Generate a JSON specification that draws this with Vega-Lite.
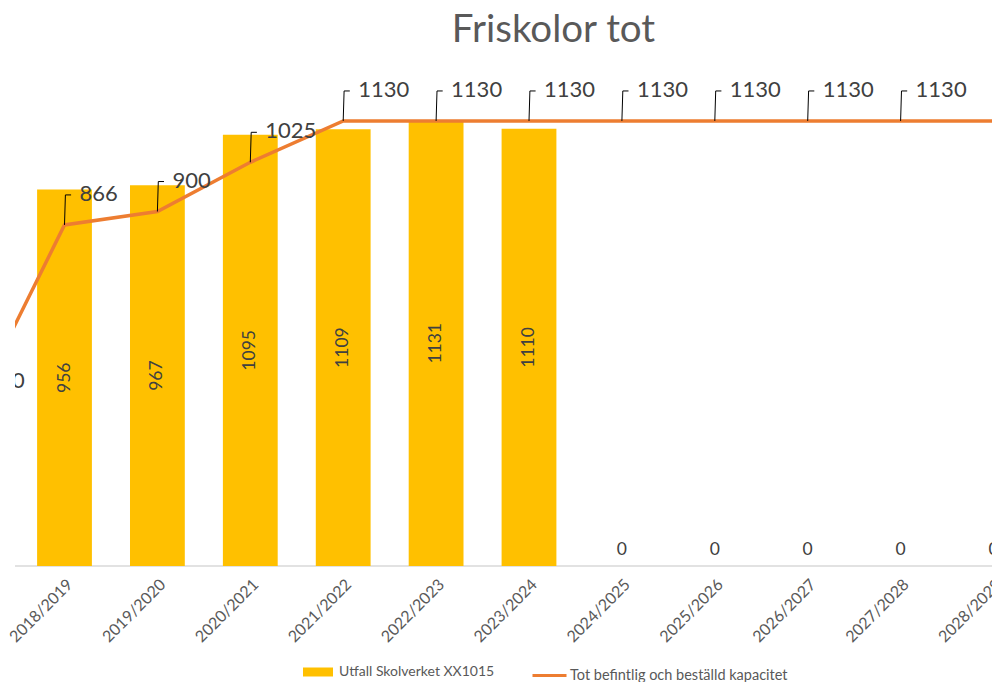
{
  "$schema": "https://vega.github.io/schema/vega-lite/v6.json",
  "autosize": {"type": "none"},
  "width": 977,
  "height": 512,
  "padding": {"left": 15, "top": 54, "right": 0, "bottom": 116},
  "background": "white",
  "config": {
    "view": {"stroke": null},
    "font": "Lato",
    "axis": {"grid": false}
  },
  "title": {
    "text": "Friskolor tot",
    "fontSize": 38.5,
    "font": "Lato",
    "fontWeight": "normal",
    "color": "#595959",
    "anchor": "middle",
    "frame": "group",
    "baseline": "alphabetic",
    "offset": 8,
    "dx": 50,
    "dy": 34
  },
  "data": {
    "values": [
      {"year": "2017/2018", "cap": 390},
      {"year": "2018/2019", "utfall": 956, "cap": 866},
      {"year": "2019/2020", "utfall": 967, "cap": 900},
      {"year": "2020/2021", "utfall": 1095, "cap": 1025},
      {"year": "2021/2022", "utfall": 1109, "cap": 1130},
      {"year": "2022/2023", "utfall": 1131, "cap": 1130},
      {"year": "2023/2024", "utfall": 1110, "cap": 1130},
      {"year": "2024/2025", "utfall": 0, "cap": 1130},
      {"year": "2025/2026", "utfall": 0, "cap": 1130},
      {"year": "2026/2027", "utfall": 0, "cap": 1130},
      {"year": "2027/2028", "utfall": 0, "cap": 1130},
      {"year": "2028/2029", "utfall": 0, "cap": 1130}
    ]
  },
  "resolve": {"scale": {"y": "independent"}},
  "layer": [
    {
      "data": {"values": [{"b": 0}]},
      "mark": {"type": "rule", "color": "#D9D9D9", "strokeWidth": 1.5},
      "encoding": {
        "y": {"field": "b", "type": "quantitative", "scale": {"domain": [0, 1300], "nice": false}, "axis": null}
      }
    },
    {
      "mark": {"type": "bar", "clip": true},
      "encoding": {
        "x": {"field": "year", "type": "nominal", "sort": null,
          "scale": {"domain": ["2017/2018", "2018/2019", "2019/2020", "2020/2021", "2021/2022", "2022/2023", "2023/2024", "2024/2025", "2025/2026", "2026/2027", "2027/2028", "2028/2029"],
            "range": [-89.85, 1024.95], "paddingInner": 0.41, "paddingOuter": 0.205},
          "axis": {"title": null, "domain": false, "ticks": false, "labelAngle": -45, "labelFontSize": 16, "labelColor": "#595959", "labelFont": "Lato", "labelPadding": 10}},
        "y": {"field": "utfall", "type": "quantitative", "scale": {"domain": [0, 1300], "nice": false}, "axis": null},
        "fill": {"datum": "Utfall Skolverket XX1015", "scale": {"range": ["#FFC000"]},
          "legend": {"title": null, "orient": "none", "legendX": 288, "legendY": 603, "labelFontSize": 14, "labelColor": "#595959", "labelFont": "Lato", "labelLimit": 400,
            "symbolType": "M-1,-0.3L1,-0.3L1,0.3L-1,0.3Z", "symbolSize": 900, "symbolStrokeWidth": 0, "labelOffset": 6}}
      }
    },
    {
      "transform": [{"filter": {"field": "utfall", "gt": 0}}],
      "mark": {"type": "text", "angle": 270, "fontSize": 17.5, "color": "#404040", "align": "center", "baseline": "middle", "clip": true},
      "encoding": {
        "x": {"field": "year", "type": "nominal", "sort": null},
        "y": {"field": "utfall", "type": "quantitative", "scale": {"domain": [0, 2600], "nice": false}, "axis": null},
        "text": {"field": "utfall", "type": "quantitative"}
      }
    },
    {
      "transform": [{"filter": {"field": "utfall", "equal": 0}}],
      "mark": {"type": "text", "fontSize": 17.5, "color": "#404040", "align": "center", "baseline": "middle", "dy": -16, "clip": true},
      "encoding": {
        "x": {"field": "year", "type": "nominal", "sort": null},
        "y": {"field": "utfall", "type": "quantitative", "scale": {"domain": [0, 1300], "nice": false}, "axis": null},
        "text": {"field": "utfall", "type": "quantitative"}
      }
    },
    {
      "mark": {"type": "line", "strokeWidth": 3.5, "clip": true},
      "encoding": {
        "x": {"field": "year", "type": "nominal", "sort": null},
        "y": {"field": "cap", "type": "quantitative", "scale": {"domain": [0, 1300], "nice": false}, "axis": null},
        "stroke": {"datum": "Tot befintlig och beställd kapacitet", "scale": {"range": ["#ED7D31"]},
          "legend": {"title": null, "orient": "none", "legendX": 516, "legendY": 603, "labelFontSize": 14.5, "labelColor": "#595959", "labelFont": "Lato", "labelLimit": 400,
            "symbolType": "stroke", "symbolSize": 1156, "symbolStrokeWidth": 3, "labelOffset": 2}}
      }
    },
    {
      "mark": {"type": "point", "shape": "M0,0L0.03,-1L0.22,-1", "size": 3600, "filled": false, "stroke": "#000000", "strokeWidth": 1, "opacity": 1, "clip": true},
      "encoding": {
        "x": {"field": "year", "type": "nominal", "sort": null},
        "y": {"field": "cap", "type": "quantitative", "scale": {"domain": [0, 1300], "nice": false}, "axis": null}
      }
    },
    {
      "mark": {"type": "text", "fontSize": 22, "color": "#404040", "align": "left", "baseline": "middle", "dx": 15, "dy": -31, "clip": true},
      "encoding": {
        "x": {"field": "year", "type": "nominal", "sort": null},
        "y": {"field": "cap", "type": "quantitative", "scale": {"domain": [0, 1300], "nice": false}, "axis": null},
        "text": {"field": "cap", "type": "quantitative"}
      }
    }
  ]
}
